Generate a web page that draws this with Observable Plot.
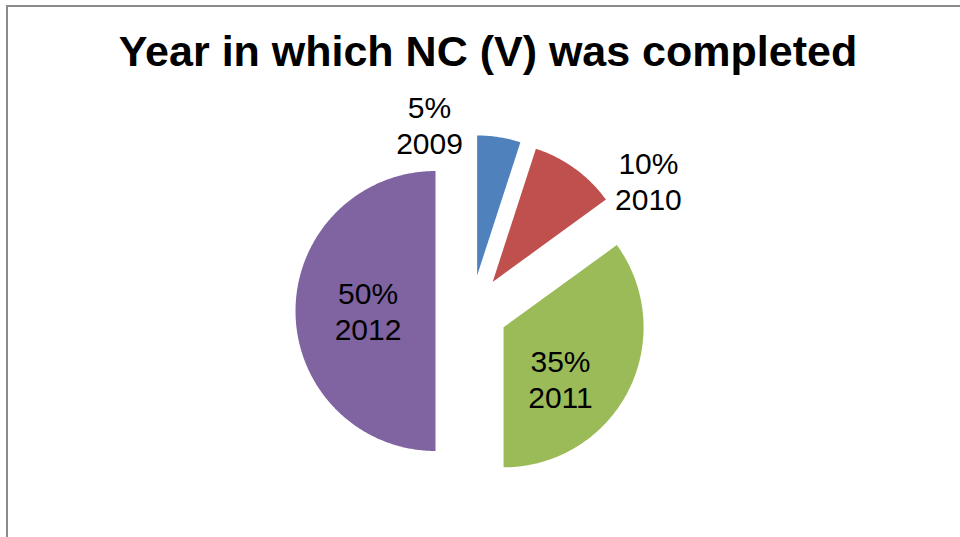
<!DOCTYPE html>
<html>
<head>
<meta charset="utf-8">
<script src="https://cdn.jsdelivr.net/npm/d3@7"></script>
<script src="https://cdn.jsdelivr.net/npm/@observablehq/plot@0.6"></script>
<style>
  html, body { margin: 0; padding: 0; background: #fff; }
  #wrap { position: relative; width: 960px; height: 537px; overflow: hidden; font-family: "Liberation Sans", Arial, sans-serif; }
  #frame { position: absolute; left: 6px; top: 5px; width: 1200px; height: 800px; border-top: 2px solid #8a8a8a; border-left: 2px solid #8a8a8a; }
  #title { position: absolute; left: 0; top: 27px; width: 976px; text-align: center; font-weight: bold; font-size: 43px; line-height: 48px; color: #000; margin: 0; }
  #chart { position: absolute; left: 0; top: 0; }
</style>
</head>
<body>
<div id="wrap">
  <div id="frame"></div>
  <div id="chart"></div>
  <h1 id="title">Year in which NC (V) was completed</h1>
</div>
<script>
// ---- data ----
const years = ["2009", "2010", "2011", "2012"];
const shares = [5, 10, 35, 50];
const percentLabels = ["5%", "10%", "35%", "50%"];
const colors = ["#4F81BD", "#C0504D", "#9BBB59", "#8064A2"];

// ---- layout (not data) ----
const W = 960, H = 537, CX = 471, CY = 310.5, R = 140, EXPLODE = 0.257;
const labelAngle = [-12.7, 53.5, 127.1, 270.5];   // degrees clockwise from 12 o'clock
const labelRadius = [1.364, 1.572, 0.797, 0.739]; // in pie radii from the pie centre

const rad = d => d * Math.PI / 180;
const total = d3.sum(shares);
let acc = 0;
const slices = years.map((year, i) => {
  const a0 = acc / total * 360;
  acc += shares[i];
  const a1 = acc / total * 360;
  return {year, a0, a1, mid: (a0 + a1) / 2};
});

const pts = [];
for (const s of slices) {
  const ox = EXPLODE * Math.sin(rad(s.mid)), oy = EXPLODE * Math.cos(rad(s.mid));
  pts.push({year: s.year, x: ox, y: oy});
  const n = Math.max(2, Math.ceil((s.a1 - s.a0) / 0.5));
  for (let k = 0; k <= n; k++) {
    const a = rad(s.a0 + (s.a1 - s.a0) * k / n);
    pts.push({year: s.year, x: ox + Math.sin(a), y: oy + Math.cos(a)});
  }
}

const labels = slices.map((s, i) => ({
  text: percentLabels[i] + "\n" + s.year,
  x: labelRadius[i] * Math.sin(rad(labelAngle[i])),
  y: labelRadius[i] * Math.cos(rad(labelAngle[i]))
}));

const chart = Plot.plot({
  width: W,
  height: H,
  margin: 0,
  x: {domain: [-CX / R, (W - CX) / R], range: [0, W], axis: null},
  y: {domain: [-(H - CY) / R, CY / R], range: [H, 0], axis: null},
  color: {domain: years, range: colors},
  style: {background: "transparent", fontFamily: "Liberation Sans, Arial, sans-serif"},
  marks: [
    Plot.line(pts, {x: "x", y: "y", z: "year", fill: "year", stroke: "none", curve: "linear-closed"}),
    Plot.text(labels, {x: "x", y: "y", text: "text", fontSize: 30, lineHeight: 1.2, fill: "#000"})
  ]
});
document.getElementById("chart").appendChild(chart);
</script>
</body>
</html>
